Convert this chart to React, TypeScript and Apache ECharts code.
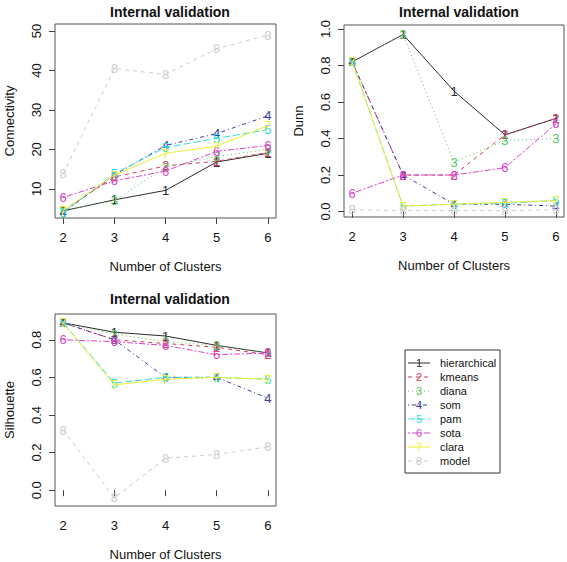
import React, { useEffect, useRef } from "react";
import * as echarts from "echarts";

const methods = ["hierarchical", "kmeans", "diana", "som", "pam", "sota", "clara", "model"];
const colors = ["#2b2b2b", "#d23c5c", "#58c45e", "#3b3ba2", "#33dede", "#dc44cc", "#eeee33", "#cdcdcd"];
const dashes: (number[] | "solid")[] = ["solid", [4, 4], [1, 3], [1, 3, 4, 3], [7, 3], [2, 2, 6, 2], "solid", [4, 4]];
const clusters = [2, 3, 4, 5, 6];

// rows: hierarchical, kmeans, diana, som, pam, sota, clara, model
const connectivity = [
  [4.4, 7.2, 9.6, 16.8, 19.0],
  [4.5, 13.0, 15.8, 17.0, 19.2],
  [4.5, 7.0, 15.5, 18.2, 20.0],
  [4.0, 13.5, 21.0, 24.0, 28.5],
  [4.0, 13.8, 20.5, 22.8, 25.0],
  [7.8, 12.0, 14.5, 19.5, 21.0],
  [4.5, 13.5, 19.0, 20.8, 26.0],
  [13.8, 40.5, 39.0, 45.5, 49.0],
];
const dunn = [
  [0.82, 0.97, 0.66, 0.42, 0.51],
  [0.82, 0.2, 0.2, 0.42, 0.51],
  [0.82, 0.97, 0.27, 0.39, 0.4],
  [0.82, 0.2, 0.04, 0.04, 0.03],
  [0.82, 0.03, 0.04, 0.045, 0.06],
  [0.1, 0.2, 0.2, 0.24, 0.48],
  [0.82, 0.03, 0.04, 0.05, 0.06],
  [0.01, 0.005, 0.005, 0.005, 0.01],
];
const silhouette = [
  [0.89, 0.84, 0.82, 0.77, 0.73],
  [0.89, 0.8, 0.78, 0.76, 0.72],
  [0.89, 0.83, 0.79, 0.77, 0.73],
  [0.89, 0.8, 0.6, 0.6, 0.49],
  [0.89, 0.57, 0.6, 0.6, 0.59],
  [0.8, 0.79, 0.77, 0.72, 0.73],
  [0.89, 0.56, 0.59, 0.6, 0.59],
  [0.32, -0.04, 0.17, 0.19, 0.23],
];

const connTicks = [10, 20, 30, 40, 50];
const dunnTicks = [0, 0.2, 0.4, 0.6, 0.8, 1.0];
const silTicks = [0, 0.2, 0.4, 0.6, 0.8];

const panels = [
  { name: "Connectivity", data: connectivity, ticks: connTicks, min: 2.6, max: 51.8, dec: 0, grid: { left: 55, top: 24, width: 221, height: 194 } },
  { name: "Dunn", data: dunn, ticks: dunnTicks, min: -0.03, max: 1.022, dec: 1, grid: { left: 344, top: 25, width: 220, height: 192 } },
  { name: "Silhouette", data: silhouette, ticks: silTicks, min: -0.084, max: 0.937, dec: 1, grid: { left: 55, top: 314, width: 221, height: 194 } },
];

const FONT = "Liberation Sans, Arial, sans-serif";

export default function App() {
  const ref = useRef<HTMLDivElement>(null);
  useEffect(() => {
    if (!ref.current) return;
    const chart = echarts.init(ref.current, undefined, { renderer: "svg" });

    const grids = panels.map((p) => ({
      ...p.grid,
      show: true,
      borderColor: "#555",
      borderWidth: 1,
      backgroundColor: "transparent",
      containLabel: false,
    }));

    const xAxes = panels.map((p, i) => ({
      type: "value",
      gridIndex: i,
      min: 1.84,
      max: 6.16,
      axisLine: { show: false },
      splitLine: { show: false },
      axisTick: { show: true, length: 6, customValues: clusters, lineStyle: { color: "#444" } },
      axisLabel: { customValues: clusters, margin: 13, fontSize: 13, color: "#111", fontFamily: FONT },
      name: "Number of Clusters",
      nameLocation: "middle",
      nameGap: 42,
      nameTextStyle: { fontSize: 13, color: "#111", fontFamily: FONT },
    }));

    const yAxes = panels.map((p, i) => ({
      type: "value",
      gridIndex: i,
      min: p.min,
      max: p.max,
      axisLine: { show: false },
      splitLine: { show: false },
      axisTick: { show: true, length: 6, customValues: p.ticks, lineStyle: { color: "#444" } },
      axisLabel: {
        customValues: p.ticks,
        rotate: 90,
        margin: 12,
        fontSize: 13,
        color: "#111",
        fontFamily: FONT,
        formatter: (v: number) => v.toFixed(p.dec),
      },
      name: p.name,
      nameLocation: "middle",
      nameGap: 39,
      nameTextStyle: { fontSize: 13, color: "#111", fontFamily: FONT },
    }));

    const series: any[] = [];
    panels.forEach((p, pi) => {
      p.data.forEach((vals, mi) => {
        series.push({
          type: "line",
          name: methods[mi],
          xAxisIndex: pi,
          yAxisIndex: pi,
          data: clusters.map((c, k) => [c, vals[k]]),
          symbol: "circle",
          symbolSize: 1,
          itemStyle: { color: "transparent" },
          lineStyle: { color: colors[mi], width: 1, type: dashes[mi] },
          label: {
            show: true,
            position: "inside",
            formatter: String(mi + 1),
            color: colors[mi],
            fontSize: 13,
            fontFamily: FONT,
          },
          emphasis: { disabled: true },
          silent: true,
          z: 2 + mi * 0.01,
        });
      });
    });

    const lgX = 405, lgY = 350, rowH = 14, firstRow = 13;
    const legendChildren: any[] = [
      { type: "rect", shape: { x: lgX, y: lgY, width: 95, height: 123 }, style: { fill: "#fff", stroke: "#333", lineWidth: 1 } },
    ];
    methods.forEach((m, i) => {
      const y = lgY + firstRow + i * rowH;
      legendChildren.push({
        type: "line",
        shape: { x1: lgX + 3, y1: y, x2: lgX + 25, y2: y },
        style: { stroke: colors[i], lineWidth: 1, lineDash: dashes[i] === "solid" ? null : dashes[i] },
      });
      legendChildren.push({
        type: "text",
        x: lgX + 14,
        y,
        style: { text: String(i + 1), fill: colors[i], font: `11px ${FONT}`, align: "center", verticalAlign: "middle", backgroundColor: "transparent" },
      });
      legendChildren.push({
        type: "text",
        x: lgX + 35,
        y,
        style: { text: m, fill: "#111", font: `11px ${FONT}`, align: "left", verticalAlign: "middle" },
      });
    });

    chart.setOption({
      animation: false,
      backgroundColor: "#fff",
      title: [
        { text: "Internal validation", left: 165, top: 0, textAlign: "center" },
        { text: "Internal validation", left: 454, top: 0, textAlign: "center" },
        { text: "Internal validation", left: 165, top: 287, textAlign: "center" },
      ].map((t) => ({ ...t, textStyle: { fontSize: 14, fontWeight: "bold", color: "#111", fontFamily: FONT } })),
      grid: grids,
      xAxis: xAxes,
      yAxis: yAxes,
      series,
      graphic: [{ type: "group", children: legendChildren }],
    });
    return () => chart.dispose();
  }, []);
  return <div ref={ref} style={{ position: "fixed", left: 0, top: 0, width: 567, height: 562 }} />;
}
